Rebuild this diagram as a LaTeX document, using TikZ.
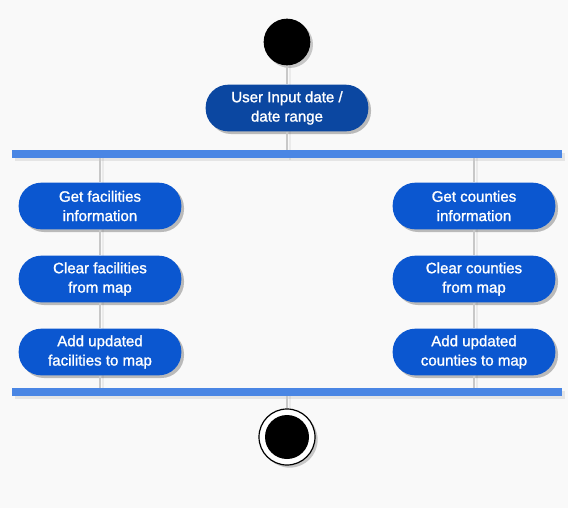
\documentclass[tikz,border=0pt]{standalone}
\usepackage{fontspec}
\setmainfont{Liberation Sans}[BoldFont={Liberation Sans}, BoldFeatures={FakeBold=1.3}]
\usetikzlibrary{shadows}
\definecolor{bgcol}{HTML}{F9F9F9}
\definecolor{actblue}{HTML}{0B57D0}
\definecolor{darkblue}{HTML}{0B47A1}
\definecolor{barblue}{HTML}{4A86E4}
\definecolor{linegray}{HTML}{C8C8C8}
\begin{document}
\begin{tikzpicture}[
	x=0.75pt, y=-0.75pt,
	every node/.style={font=\fontsize{11.3}{14.5}\selectfont\bfseries},
	actnode/.style={shape=rectangle, rounded corners=17pt, fill=actblue, text=white, align=center, minimum width=122pt, minimum height=35pt, inner sep=0pt, drop shadow={shadow xshift=2pt, shadow yshift=-2pt, opacity=0.25, fill=black}},
	inputnode/.style={actnode, fill=darkblue},
	barnode/.style={shape=rectangle, fill=barblue, minimum width=412.5pt, minimum height=6pt, inner sep=0pt, drop shadow={shadow xshift=2pt, shadow yshift=-2pt, opacity=0.08, fill=black}},
	startnode/.style={shape=circle, fill=black, minimum size=35pt, inner sep=0pt, drop shadow={shadow xshift=2pt, shadow yshift=-2pt, opacity=0.2, fill=black}},
	endnode/.style={shape=circle, fill=white, draw=black, line width=0.9pt, minimum size=42pt, inner sep=0pt, drop shadow={shadow xshift=2pt, shadow yshift=-2pt, opacity=0.2, fill=black}},
	flow/.style={draw=linegray, line width=1.1pt},
	flowshadow/.style={draw=black!8, line width=1.1pt},
]
\useasboundingbox[fill=bgcol] (0,0) rectangle (568,508);

% shadows of the connectors
\draw[flowshadow] (290,42) -- (290,160);
\draw[flowshadow] (103,158) -- (103,390);
\draw[flowshadow] (477,158) -- (477,390);
\draw[flowshadow] (290,396) -- (290,420);

% nodes
\node[startnode] (start) at (287,42) {};
\node[inputnode] (input) at (287,108) {User Input date /\\date range};
\node[barnode] (fork) at (287,154) {};
\node[actnode] (getfac) at (100,206) {Get facilities\\information};
\node[actnode] (clearfac) at (100,279) {Clear facilities\\from map};
\node[actnode] (addfac) at (100,352) {Add updated\\facilities to map};
\node[actnode] (getcty) at (474,206) {Get counties\\information};
\node[actnode] (clearcty) at (474,279) {Clear counties\\from map};
\node[actnode] (addcty) at (474,352) {Add updated\\counties to map};
\node[barnode] (join) at (287,392) {};
\node[endnode] (stop) at (287,437) {};
\fill[black] (stop) circle (16.5pt);

% connectors
\draw[flow] (start) -- (input);
\draw[flow] (input) -- (fork);
\draw[flow] (fork.south -| getfac) -- (getfac);
\draw[flow] (getfac) -- (clearfac);
\draw[flow] (clearfac) -- (addfac);
\draw[flow] (addfac) -- (join.north -| addfac);
\draw[flow] (fork.south -| getcty) -- (getcty);
\draw[flow] (getcty) -- (clearcty);
\draw[flow] (clearcty) -- (addcty);
\draw[flow] (addcty) -- (join.north -| addcty);
\draw[flow] (join) -- (stop);
\end{tikzpicture}
\end{document}
